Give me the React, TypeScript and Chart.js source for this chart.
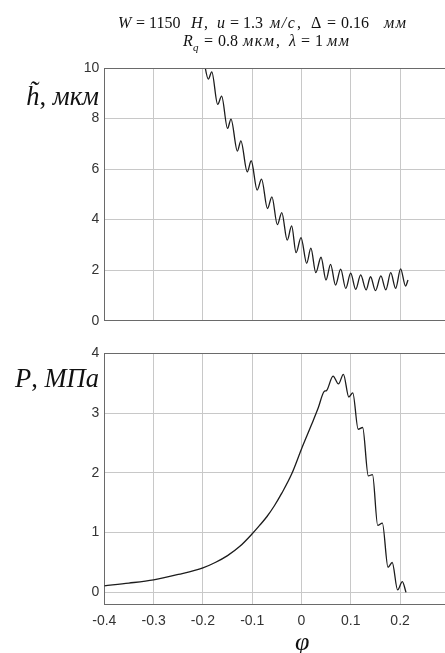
import React, { useEffect, useRef } from "react";
import { Chart, registerables } from "chart.js";
Chart.register(...registerables);

// ---- data ----
const phiH = [-0.199, -0.189, -0.182, -0.170, -0.162, -0.150, -0.143, -0.130, -0.123, -0.110, -0.102, -0.090, -0.081, -0.069, -0.060, -0.049, -0.040, -0.029, -0.020, -0.011, -0.001, 0.0105, 0.019, 0.029, 0.0396, 0.0497, 0.059, 0.069, 0.0795, 0.0897, 0.0998, 0.110, 0.120, 0.131, 0.140, 0.150, 0.161, 0.171, 0.181, 0.191, 0.201, 0.211, 0.216];
const hVals = [10.4, 9.56, 9.85, 8.56, 8.89, 7.61, 7.98, 6.71, 7.12, 5.89, 6.33, 5.17, 5.60, 4.44, 4.90, 3.80, 4.28, 3.19, 3.75, 2.69, 3.29, 2.27, 2.87, 1.90, 2.51, 1.61, 2.23, 1.41, 2.04, 1.28, 1.88, 1.24, 1.81, 1.22, 1.74, 1.19, 1.77, 1.22, 1.90, 1.28, 2.05, 1.37, 1.61];

const phiP = [-0.4, -0.35, -0.3, -0.25, -0.2, -0.175, -0.15, -0.125, -0.1, -0.085, -0.07, -0.055, -0.04, -0.02, 0.0, 0.02, 0.034, 0.0457, 0.051, 0.064, 0.075, 0.085, 0.096, 0.104, 0.115, 0.124, 0.1355, 0.144, 0.1546, 0.164, 0.1755, 0.184, 0.195, 0.2045, 0.212];
const pVals = [0.11, 0.155, 0.21, 0.30, 0.41, 0.50, 0.615, 0.77, 0.98, 1.12, 1.27, 1.45, 1.66, 1.98, 2.40, 2.80, 3.09, 3.36, 3.38, 3.62, 3.49, 3.65, 3.27, 3.34, 2.73, 2.76, 1.95, 1.97, 1.12, 1.16, 0.42, 0.50, 0.04, 0.18, 0.0];

const xTicks = [-0.4, -0.3, -0.2, -0.1, 0, 0.1, 0.2];
const hTicks = [0, 2, 4, 6, 8, 10];
const pTicks = [0, 1, 2, 3, 4];

// title pieces: [text, italic]
const title1: [string, boolean][] = [
  ["W", true], ["=", false], ["1150", false], ["H", true], [",", false],
  ["u", true], ["=", false], ["1.3", false], ["м/с", true], [",", false],
  ["Δ", false], ["=", false], ["0.16", false], ["мм", true],
];
const title2: [string, boolean][] = [
  ["R", true], ["q", true], ["=", false], ["0.8", false], ["мкм", true], [",", false],
  ["λ", true], ["=", false], ["1", false], ["мм", true],
];
const title1X = [118, 136, 149, 191, 204, 217, 230, 243, 270, 297, 311, 327, 341, 384];
const title2X = [183, 193, 204, 218, 243, 276, 289, 301, 315, 327];

const AXIS = "#6a6a6a";
const GRID = "#c8c8c8";
const TICK = "#333333";
const LINE = "#1c1c1c";
const CANVAS_W = 470;

const topBorder = {
  id: "topBorder",
  afterDatasetsDraw(chart: any) {
    const { ctx, chartArea: a } = chart;
    ctx.save();
    ctx.strokeStyle = AXIS;
    ctx.lineWidth = 1;
    ctx.beginPath();
    ctx.moveTo(a.left, Math.round(a.top) + 0.5);
    ctx.lineTo(a.right, Math.round(a.top) + 0.5);
    ctx.stroke();
    ctx.restore();
  },
};

function makeConfig(
  xs: number[],
  ys: number[],
  yMin: number,
  yMax: number,
  yTicks: number[],
  showX: boolean,
  padTop: number,
  xAxisH: number
): any {
  return {
    type: "line",
    data: {
      datasets: [
        {
          data: xs.map((x, i) => ({ x, y: ys[i] })),
          borderColor: LINE,
          borderWidth: 1.3,
          pointRadius: 0,
          fill: false,
          cubicInterpolationMode: "monotone",
        },
      ],
    },
    options: {
      animation: false,
      responsive: false,
      devicePixelRatio: 1,
      layout: { padding: { top: padTop, right: 20.6, left: 0, bottom: 0 } },
      plugins: { legend: { display: false }, tooltip: { enabled: false }, title: { display: false } },
      scales: {
        x: {
          type: "linear",
          min: -0.4,
          max: 0.3,
          afterBuildTicks: (s: any) => {
            s.ticks = xTicks.map((v) => ({ value: v }));
          },
          afterFit: (s: any) => {
            s.height = xAxisH;
          },
          ticks: {
            display: showX,
            padding: 8,
            color: TICK,
            font: { family: "Liberation Sans", size: 14 },
            callback: (v: any) => String(Number(v)),
            maxRotation: 0,
          },
          grid: { color: GRID, drawTicks: false, lineWidth: 1 },
          border: { color: AXIS, width: 1 },
        },
        y: {
          type: "linear",
          min: yMin,
          max: yMax,
          afterBuildTicks: (s: any) => {
            s.ticks = yTicks.map((v) => ({ value: v }));
          },
          afterFit: (s: any) => {
            s.width = 104.3;
          },
          ticks: {
            padding: 5,
            color: TICK,
            font: { family: "Liberation Sans", size: 14 },
            callback: (v: any) => String(Number(v)),
          },
          grid: { color: GRID, drawTicks: false, lineWidth: 1 },
          border: { color: AXIS, width: 1 },
        },
      },
    },
    plugins: [topBorder],
  };
}

function ChartCanvas(props: { cfg: () => any; top: number; height: number }) {
  const ref = useRef<HTMLCanvasElement | null>(null);
  useEffect(() => {
    if (!ref.current) return;
    const chart = new Chart(ref.current, props.cfg());
    return () => chart.destroy();
  }, []);
  return (
    <canvas
      ref={ref}
      width={CANVAS_W}
      height={props.height}
      style={{ position: "absolute", left: 0, top: props.top, width: CANVAS_W, height: props.height }}
    />
  );
}

const serif = "'Liberation Serif', 'DejaVu Serif', serif";
const isCyr = (t: string) => /[а-яА-Я]/.test(t);

function TitleLine(props: { pieces: [string, boolean][]; xs: number[]; top: number; subIndex?: number }) {
  return (
    <>
      {props.pieces.map(([t, it], i) => {
        const isSub = props.subIndex === i;
        return (
          <span
            key={i}
            style={{
              position: "absolute",
              left: props.xs[i],
              top: isSub ? props.top + 6 : props.top,
              fontSize: isSub ? 11 : 16,
              lineHeight: "20px",
              fontStyle: it ? "italic" : "normal",
              letterSpacing: isCyr(t) ? 1.5 : 0,
              whiteSpace: "nowrap",
            }}
          >
            {t}
          </span>
        );
      })}
    </>
  );
}

export default function App() {
  return (
    <div
      style={{
        position: "fixed",
        left: 0,
        top: 0,
        width: 445,
        height: 653,
        overflow: "hidden",
        background: "#ffffff",
        fontFamily: serif,
        color: "#111",
      }}
    >
      <ChartCanvas
        top={0}
        height={340}
        cfg={() => makeConfig(phiH, hVals, 0, 10, hTicks, false, 68, 19.3)}
      />
      <ChartCanvas
        top={340}
        height={313}
        cfg={() => makeConfig(phiP, pVals, -0.2, 4, pTicks, true, 12.3, 48.7)}
      />
      <TitleLine pieces={title1} xs={title1X} top={12.6} />
      <TitleLine pieces={title2} xs={title2X} top={31.3} subIndex={1} />
      <div style={{ position: "absolute", right: 445 - 99, top: 81, fontSize: 26.5, whiteSpace: "nowrap", lineHeight: "30px" }}>
        <i>h&#x0303;</i>, <i>мкм</i>
      </div>
      <div style={{ position: "absolute", right: 445 - 99, top: 362.8, fontSize: 26.5, whiteSpace: "nowrap", lineHeight: "30px" }}>
        <i>P</i>, <i>МПа</i>
      </div>
      <div style={{ position: "absolute", left: 295, top: 627, fontSize: 26, lineHeight: "30px" }}>
        <i>φ</i>
      </div>
    </div>
  );
}
